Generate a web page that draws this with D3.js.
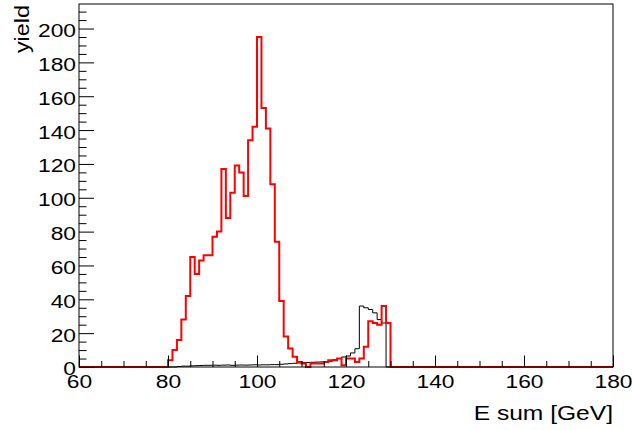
<!DOCTYPE html>
<html>
<head>
<meta charset="utf-8">
<script src="https://cdn.jsdelivr.net/npm/d3@7"></script>
<style>
  body { margin: 0; background: #fff; }
  text { font-family: "Liberation Sans", Arial, Helvetica, sans-serif; }
</style>
</head>
<body>
<script>
// histogram: 120 bins of 1 GeV from 60 to 180; only non-empty range listed, starting at firstBin
var xMin = 60, xMax = 180, binWidth = 1;

// red histogram, bins 80..129
var redFirst = 80;
var redValues = [4, 10, 16, 28, 42, 65, 55, 63, 66, 66,
                 77, 80, 117, 88, 103, 119, 115, 101, 134, 142,
                 195, 153, 141, 108, 74, 39, 18, 11, 6, 3,
                 2, 0, 2, 2, 2, 3, 4, 4, 5, 1,
                 5, 5, 3, 5, 12, 27, 26, 25, 36, 26];

// black histogram, bins 82..129
var blackFirst = 82;
var blackValues = [0.3, 0.5, 0.5, 0.7, 0.8, 0.9, 1, 1, 1.1, 1,
                   1.1, 1.2, 1, 1.1, 1.2, 1.1, 1.2, 1.3, 1.2, 1.3,
                   1.3, 1.4, 1.4, 1.6, 1.8, 2, 2.2, 2.4, 2.6, 2.7,
                   2.8, 2.9, 3, 3.1, 3.4, 4.3, 5, 5.9, 6.5, 8.3,
                   10.8, 36, 35, 34, 32, 28, 26];

var xMajor = [60, 80, 100, 120, 140, 160, 180];
var yMajor = [0, 20, 40, 60, 80, 100, 120, 140, 160, 180, 200];
var yMaxRange = 214.5;

var W = 633, H = 430;
var fLeft = 79, fRight = 613, fTop = 4, fBottom = 367;
var wide = 1.2;   // the reference font is wider than Liberation Sans

var svg = d3.select('body').append('svg')
  .attr('width', W).attr('height', H);

svg.append('rect').attr('width', W).attr('height', H).attr('fill', '#fff');

var x = d3.scaleLinear().domain([xMin, xMax]).range([fLeft, fRight]);
var y = d3.scaleLinear().domain([0, yMaxRange]).range([fBottom, fTop]);

// full 120-bin content array from the listed values
function fullBins(first, vals) {
  var n = Math.round((xMax - xMin) / binWidth);
  var arr = [];
  for (var i = 0; i < n; i++) arr.push(0);
  vals.forEach(function (v, k) { arr[first - xMin + k] = v; });
  return arr;
}

function stepPath(bins) {
  var pts = [[x(xMin), y(0)]];
  bins.forEach(function (v, i) {
    var lo = xMin + i * binWidth, hi = lo + binWidth;
    pts.push([x(lo), y(v)]);
    pts.push([x(hi), y(v)]);
  });
  pts.push([x(xMax), y(0)]);
  return d3.line()(pts);
}

svg.append('path')
  .attr('d', stepPath(fullBins(blackFirst, blackValues)))
  .attr('fill', 'none')
  .attr('stroke', '#000')
  .attr('stroke-width', 1);

svg.append('path')
  .attr('d', stepPath(fullBins(redFirst, redValues)))
  .attr('fill', 'none')
  .attr('stroke', '#ff0000')
  .attr('stroke-width', 2);

// minor ticks
var xMinor = d3.range(xMin, xMax + 0.1, 5).filter(function (d) { return xMajor.indexOf(d) < 0; });
var yMinor = d3.range(0, yMaxRange, 5).filter(function (d) { return yMajor.indexOf(d) < 0; });

var gx = svg.append('g').attr('transform', 'translate(0,' + fBottom + ')');
gx.call(d3.axisBottom(x).tickValues(xMinor).tickSize(-6).tickFormat(''));
var gxMaj = gx.append('g').call(d3.axisBottom(x).tickValues(xMajor).tickSize(-11.5).tickPadding(8).tickFormat(d3.format('d')));

var gy = svg.append('g').attr('transform', 'translate(' + fLeft + ',0)');
gy.call(d3.axisLeft(y).tickValues(yMinor).tickSize(-7.5).tickFormat(''));
var gyMaj = gy.append('g').call(d3.axisLeft(y).tickValues(yMajor).tickSize(-15).tickPadding(2.5).tickFormat(d3.format('d')));

svg.selectAll('.domain').remove();
svg.selectAll('.tick line').attr('stroke', '#000').attr('stroke-width', 1);
svg.selectAll('.tick text')
  .attr('fill', '#000')
  .attr('transform', 'scale(' + wide + ',1)')
  .style('font-size', '19px')
  .style('font-family', '"Liberation Sans", Arial, sans-serif');
gyMaj.selectAll('.tick text').attr('dy', '0.42em');

// frame
svg.append('rect')
  .attr('x', fLeft).attr('y', fTop)
  .attr('width', fRight - fLeft).attr('height', fBottom - fTop)
  .attr('fill', 'none').attr('stroke', '#000').attr('stroke-width', 1);

// axis titles
svg.append('text')
  .attr('transform', 'translate(' + fRight + ',420) scale(' + wide + ',1)')
  .attr('text-anchor', 'end')
  .style('font-size', '20.5px')
  .text('E sum [GeV]');

svg.append('text')
  .attr('transform', 'translate(29,' + (fTop + 1) + ') rotate(-90) scale(' + wide + ',1)')
  .attr('text-anchor', 'end')
  .style('font-size', '19.5px')
  .text('yield');
</script>
</body>
</html>
